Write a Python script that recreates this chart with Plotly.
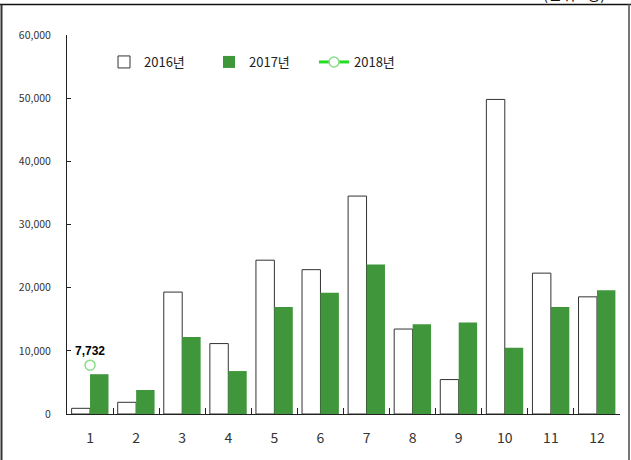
import plotly.graph_objects as go

months = [str(i) for i in range(1, 13)]
v2016 = [900, 1850, 19300, 11150, 24350, 22850, 34500, 13450, 5450, 49800, 22300, 18550]
v2017 = [6300, 3800, 12200, 6800, 16950, 19200, 23650, 14200, 14500, 10500, 16950, 19600]
months2018 = ["1"]
v2018 = [7732]
labels2018 = ["7,732"]
y_ticks = [0, 10000, 20000, 30000, 40000, 50000, 60000]

FONT = "Noto Sans CJK KR"
GREEN = "#40963a"

fig = go.Figure()
fig.add_trace(go.Bar(
    x=months, y=v2016, name="2016년",
    marker=dict(color="white", line=dict(color="#333333", width=1)),
))
fig.add_trace(go.Bar(
    x=months, y=v2017, name="2017년",
    marker=dict(color=GREEN, line=dict(width=0)),
))
fig.add_trace(go.Scatter(
    x=months2018, y=v2018, name="2018년", mode="lines+markers+text",
    line=dict(color="#22dd22", width=3),
    marker=dict(symbol="circle", size=10, color="white", line=dict(color="#88dd88", width=1.5)),
    text=labels2018, textposition="top center",
    textfont=dict(family="Liberation Sans", size=12, color="black", weight="bold"),
))

W, H = 631, 460
L, R, T, B = 67, 11, 35, 46
pw = W - L - R
ph = H - T - B

def px_x(p):
    return (p - L) / pw

def px_y(p):
    return (H - B - p) / ph

fig.update_layout(
    width=W, height=H,
    margin=dict(l=L, r=R, t=T, b=B, autoexpand=False),
    paper_bgcolor="white", plot_bgcolor="white",
    barmode="group", bargap=0.2, bargroupgap=0,
    font=dict(family=FONT, color="#333333"),
    showlegend=True,
    legend=dict(
        orientation="h", x=px_x(104), y=px_y(47), xanchor="left", yanchor="top",
        font=dict(family=FONT, size=13, color="#222222"),
        bgcolor="rgba(0,0,0,0)", entrywidth=60, entrywidthmode="pixels",
        traceorder="normal",
    ),
    xaxis=dict(
        type="category", range=[-0.5, 11.5], autorange=False,
        showgrid=False, showline=True, linecolor="#222222", linewidth=1,
        ticks="inside", ticklen=6, tickcolor="#222222", tickson="boundaries",
        tickfont=dict(family=FONT, size=14, color="#333333"),
        ticklabelstandoff=11, zeroline=False,
    ),
    yaxis=dict(
        range=[0, 60000], tickvals=y_ticks, tickformat=",d",
        showgrid=False, showline=True, linecolor="#222222", linewidth=1,
        ticks="inside", ticklen=4, tickcolor="#222222",
        tickfont=dict(family=FONT, size=10.5, color="#333333"),
        ticklabelstandoff=13, zeroline=False,
    ),
    shapes=[
        dict(type="line", xref="paper", yref="paper", x0=px_x(0), x1=px_x(631), y0=px_y(4.5), y1=px_y(4.5),
             line=dict(color="#111111", width=1.5)),
        dict(type="line", xref="paper", yref="paper", x0=px_x(1.5), x1=px_x(1.5), y0=px_y(4.5), y1=px_y(470),
             line=dict(color="#333333", width=2)),
        dict(type="line", xref="paper", yref="paper", x0=px_x(629), x1=px_x(629), y0=px_y(4.5), y1=px_y(470),
             line=dict(color="#777777", width=2)),
    ],
    annotations=[
        dict(text="(단위 : 명)", xref="paper", yref="paper", x=px_x(607), y=px_y(6),
             xanchor="right", yanchor="bottom", showarrow=False,
             font=dict(family=FONT, size=15, color="#111111")),
    ],
)

fig.write_html("out.html", config={"displayModeBar": False},
               post_script="document.body.style.margin='0';")
